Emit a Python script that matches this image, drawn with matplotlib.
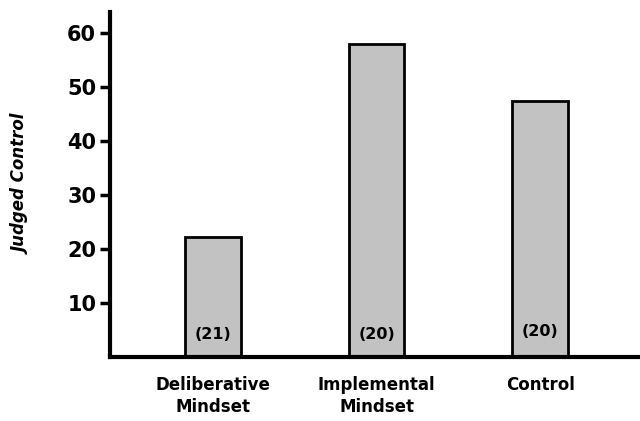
import matplotlib.pyplot as plt

categories = ["Deliberative\nMindset", "Implemental\nMindset", "Control"]
judged_control = [22.3, 58.0, 47.5]
n_labels = ["(21)", "(20)", "(20)"]
n_label_y = [4.2, 4.2, 4.8]
yticks = [10, 20, 30, 40, 50, 60]

fig = plt.figure(figsize=(6.4, 4.21), dpi=100)
ax = fig.add_axes([0.172, 0.152, 0.828, 0.82])

x = range(len(categories))
ax.bar(x, judged_control, width=0.34, color="#c2c2c2", edgecolor="black", linewidth=2)
for xi, lab, ly in zip(x, n_labels, n_label_y):
    ax.text(xi, ly, lab, ha="center", va="center", fontsize=11.5, fontweight="bold")

ax.set_xlim(-0.63, 2.61)
ax.set_ylim(0, 64)
ax.set_yticks(yticks)
ax.set_yticklabels([str(t) for t in yticks], fontsize=15, fontweight="bold")
ax.tick_params(axis="y", direction="out", length=7, width=2.5, pad=3)
ax.set_xticks(list(x))
ax.set_xticklabels(categories, fontsize=12, fontweight="bold", linespacing=1.25)
ax.tick_params(axis="x", length=0, pad=14)
ax.set_ylabel("Judged Control", fontsize=12, fontweight="bold", style="italic", labelpad=26)

for s in ["top", "right"]:
    ax.spines[s].set_visible(False)
ax.spines["left"].set_linewidth(3)
ax.spines["bottom"].set_linewidth(3)

fig.savefig("out.png", dpi=100)
